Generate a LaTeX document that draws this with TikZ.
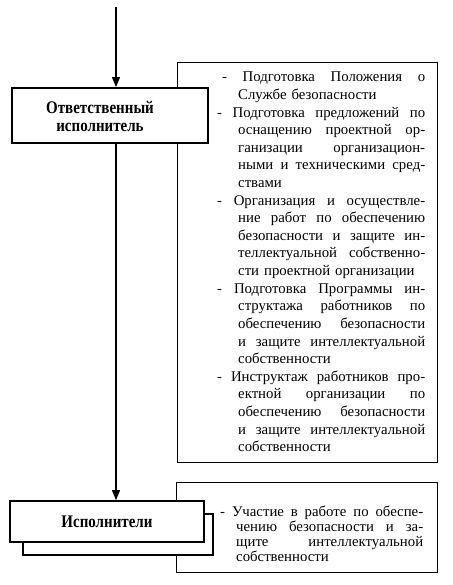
\documentclass[tikz,border=0pt]{standalone}
\usepackage{fontspec}
\setmainfont{Liberation Serif}
\usetikzlibrary{arrows.meta}
\newlength\lw
\newcommand\jfull[1]{\makebox[\lw][s]{\spaceskip=0.25em plus 0.5em minus 0.05em\relax #1}}
\newcommand\jind[2]{\hspace*{#1}\makebox[\dimexpr\lw-#1\relax][s]{\spaceskip=0.25em plus 0.5em minus 0.05em\relax #2}}
\newcommand\rind[2]{\hspace*{#1}#2}
\newcommand\tall[1]{\scalebox{1}[1.18]{#1}}
\begin{document}
\begin{tikzpicture}[x=1pt,y=-1pt,
  thinbox/.style={draw, line width=0.9pt, fill=white, inner sep=0pt},
  thickbox/.style={draw, line width=1.8pt, fill=white, inner sep=0pt},
  arr/.style={line width=1.1pt, -{Triangle[length=10pt,width=8pt]}},
  listtext/.style={inner sep=0pt, align=left, anchor=base west, font=\fontsize{14.8}{17.6}\selectfont},
  boldtext/.style={inner sep=0pt, align=center, font=\fontsize{15}{18}\selectfont\bfseries}]
\useasboundingbox (0,0) rectangle (452,585);
\fill[white] (0,0) rectangle (452,585);
% right boxes
\node[thinbox, minimum width=260pt, minimum height=400pt] (dutybox) at (307,262) {};
\node[thinbox, minimum width=261pt, minimum height=90pt] (taskbox) at (306.5,527) {};
% left boxes
\node[thickbox, minimum width=196pt, minimum height=55pt] (resp) at (110,115.5) {};
\node[boldtext] (resplabel) at (100,116) {\tall{Ответственный}\\\tall{исполнитель}};
\node[thickbox, minimum width=190pt, minimum height=41pt] (shadow) at (118,534.5) {};
\node[thickbox, minimum width=194pt, minimum height=41pt, font=\fontsize{15}{18}\selectfont\bfseries] (exec) at (107,521.5) {\tall{Исполнители}};
% connectors
\coordinate (in) at (116,7);
\draw[arr] (in) -- (in |- resp.north);
\draw[arr] (resp.south -| in) -- (exec.north -| in);
% texts
\node[listtext, text width=208pt] (duties) at (217,82) {\setlength\lw{208pt}%
\jind{5pt}{- Подготовка Положения о}\\
\rind{21pt}{Службе безопасности}\\
\jfull{- Подготовка предложений по}\\
\jind{21pt}{оснащению проектной ор-}\\
\jind{21pt}{ганизации организацион-}\\
\jind{21pt}{ными и техническими сред-}\\
\rind{21pt}{ствами}\\
\jfull{- Организация и осуществле-}\\
\jind{21pt}{ние работ по обеспечению}\\
\jind{21pt}{безопасности и защите ин-}\\
\jind{21pt}{теллектуальной собственно-}\\
\rind{21pt}{сти проектной организации}\\
\jfull{- Подготовка Программы ин-}\\
\jind{21pt}{структажа работников по}\\
\jind{21pt}{обеспечению безопасности}\\
\jind{21pt}{и защите интеллектуальной}\\
\rind{21pt}{собственности}\\
\jfull{- Инструктаж работников про-}\\
\jind{21pt}{ектной организации по}\\
\jind{21pt}{обеспечению безопасности}\\
\jind{21pt}{и защите интеллектуальной}\\
\rind{21pt}{собственности}};
\node[listtext, text width=203pt, font=\fontsize{14.8}{15.3}\selectfont] (tasks) at (220,516) {\setlength\lw{203pt}%
\jfull{- Участие в работе по обеспе-}\\
\jind{16pt}{чению безопасности и за-}\\
\jind{16pt}{щите интеллектуальной}\\
\rind{16pt}{собственности}};
\end{tikzpicture}
\end{document}
